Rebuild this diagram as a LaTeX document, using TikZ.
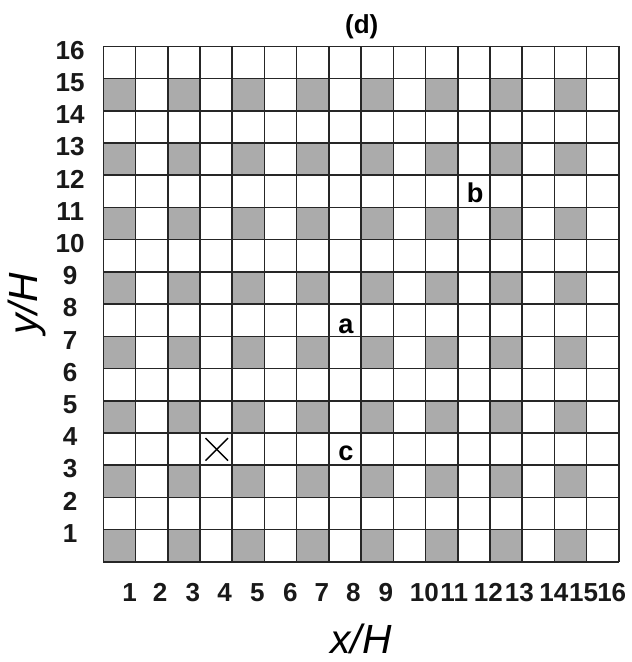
\documentclass[tikz,border=0pt]{standalone}
\usepackage{fontspec}
\setmainfont{Liberation Sans}

\tikzset{
  ticklabel/.style={font=\bfseries\fontsize{11.5}{13}\selectfont, text=black!90, inner sep=0pt},
  pointlabel/.style={font=\bfseries\fontsize{12}{14}\selectfont, inner sep=0pt},
  axislabel/.style={font=\itshape\fontsize{18}{20}\selectfont, inner sep=0pt},
  cellgrid/.style={line width=0.7pt, black!85},
  shaded/.style={fill=black!33}
}

\begin{document}
\begin{tikzpicture} [x=0.5cm, y=0.5cm]
\useasboundingbox (-3.21,-3.11) rectangle (16.39,17.44);

% shaded cells
\foreach \i in {0,2,...,14}
  \foreach \j in {0,2,...,14}
    \fill [shaded] (\i,\j) rectangle ++(1,1);
\draw [cellgrid, step=0.5cm] (0,0) grid (16,16);

% y ticks
\foreach \k in {1,...,16}
  \node [ticklabel] (ty\k) at (-1.03,\k-0.12) {\k};

% x ticks
\foreach \k/\xpos in {1/0.81, 2/1.76, 3/2.78, 4/3.76, 5/4.78, 6/5.80, 7/6.78, 8/7.76,
                      9/8.77, 10/9.96, 11/10.89, 12/11.95, 13/12.91, 14/13.98, 15/14.91, 16/15.78}
  \node [ticklabel] (tx\k) at (\xpos,-0.96) {\k};

\node [ticklabel, text=black] (title) at (8.02,16.61) {(d)};
\node [axislabel] (xlabel) at (8.0,-2.4) {x/H};
\node [axislabel, rotate=90] (ylabel) at (-2.37,8.0) {y/H};

% points
\node [pointlabel] (a) at (7.53,7.32) {a};
\node [pointlabel] (b) at (11.54,11.44) {b};
\node [pointlabel] (c) at (7.53,3.37) {c};

\coordinate (X) at (3.52,3.49);
\draw [line width=0.6pt] (X) ++(-0.35,-0.35) -- ++(0.7,0.7);
\draw [line width=0.6pt] (X) ++(-0.35,0.35) -- ++(0.7,-0.7);
\end{tikzpicture}
\end{document}
